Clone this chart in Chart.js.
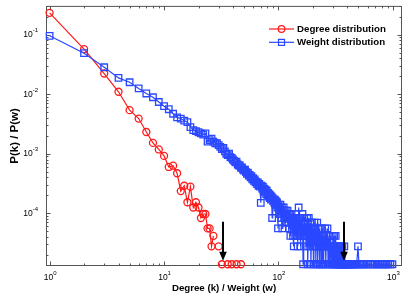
<!DOCTYPE html>
<html>
<head>
<meta charset="utf-8">
<script src="https://cdn.jsdelivr.net/npm/chart.js@4.4.1/dist/chart.umd.min.js"></script>
<style>
  html, body { margin: 0; padding: 0; background: #fff; }
  #chart { display: block; }
</style>
</head>
<body>
<canvas id="chart" width="415" height="301"></canvas>
<script>
// degree distribution P(k); null = no node with that degree (line breaks there)
const degreeK = [1, 2, 3, 4, 5, 6, 7, 8, 9, 10, 11, 12, 13, 14, 15, 16, 17, 18, 19, 20,
                 21, 22, 23, 24, 25, 26, 27, 28, 30, 31, 32, 33, 36, 37, 39, 40, 43, 44, 47];
const degreeP = [0.233, 0.0574, 0.0223, 0.0110, 0.0054, 0.0039, 0.00232, 0.00152, 0.00118, 0.00092,
                 6.0e-4, 6.3e-4, 4.7e-4, 2.36e-4, 2.9e-4, 1.53e-4, 2.8e-4, 1.25e-4, 1.53e-4, 1.25e-4,
                 8.33e-5, 9.72e-5, 9.72e-5, 5.56e-5, 5.56e-5, 2.78e-5, 4.17e-5, null, 2.78e-5, null,
                 1.39e-5, null, 1.39e-5, null, 1.39e-5, null, 1.39e-5, null, 1.39e-5];

// weight distribution P(w)
const weightW = [1, 2, 3, 4, 5, 6, 7, 8, 9, 10, 11, 12, 13, 14, 15, 16, 17, 18, 19, 20,
  21, 22, 23, 24, 25, 26, 27, 28, 29, 30, 31, 32, 33, 34, 35, 36, 37, 38, 39, 40,
  41, 42, 43, 44, 45, 46, 47, 48, 49, 50, 51, 52, 53, 54, 55, 56, 57, 58, 59, 60,
  61, 62, 63, 64, 65, 66, 67, 68, 69, 70, 71, 72, 73, 74, 75, 76, 77, 78, 79, 80,
  81, 82, 83, 84, 85, 86, 87, 88, 89, 90, 91, 92, 93, 94, 95, 96, 97, 98, 99, 100,
  101, 102, 103, 104, 105, 106, 107, 108, 109, 110, 111, 112, 113, 114, 115, 116, 117, 118, 119, 120,
  121, 122, 123, 124, 125, 126, 127, 128, 129, 130, 131, 132, 133, 134, 135, 136, 137, 138, 139, 140,
  141, 142, 143, 144, 145, 146, 147, 148, 149, 150,
  152, 154, 156, 158, 160, 162, 164, 166, 168, 170, 172, 174, 176, 178, 180, 182, 184, 186, 188, 190,
  192, 194, 196, 198, 200, 202, 204, 206, 208, 210, 212, 214, 216, 218, 220, 222, 224, 226, 228, 230,
  232, 234, 236, 238, 240, 242, 244, 246, 248, 250,
  253, 256, 259, 262, 265, 268, 271, 274, 277, 280, 283, 286, 289, 292, 295, 298, 301, 304, 307, 310,
  313, 316, 319, 322, 325, 328, 331, 334, 337, 340, 343, 346, 349, 352, 355, 358, 361, 364, 368, 372,
  376, 380, 385, 390, 396, 402,
  410, 418, 425, 433, 442, 450, 460, 470, 482, 495, 505, 520, 535, 548, 560, 590, 610, 640, 660, 690,
  720, 740, 770, 800, 820, 850, 880, 910, 950, 990];
const weightP = [0.096, 0.049, 0.0284, 0.0188, 0.0159, 0.0125, 0.0103, 0.0089, 0.0074, 0.0063,
  0.0056, 0.0047, 0.0041, 0.0039, 0.0036, 0.0034, 0.0028, 0.0025, 0.0024, 0.0023,
  0.0022, 0.0021, 0.0022, 0.0016, 0.0017, 0.0018, 0.0016, 0.0015, 0.0015, 0.0014,
  0.0013, 0.0012, 0.00125, 0.0011, 0.0010, 0.00095, 0.0010, 0.00088, 0.00085, 0.0008,
  7.6e-4, 7.2e-4, 7.4e-4, 6.6e-4, 6.3e-4, 6.4e-4, 5.8e-4, 5.9e-4, 5.4e-4, 5.2e-4,
  5.4e-4, 4.9e-4, 4.6e-4, 4.8e-4, 4.3e-4, 4.4e-4, 4.0e-4, 4.2e-4, 3.7e-4, 3.9e-4,
  3.5e-4, 3.7e-4, 3.3e-4, 3.4e-4, 3.1e-4, 3.3e-4, 2.9e-4, 3.1e-4, 2.8e-4, 1.5e-4,
  2.9e-4, 2.6e-4, 2.8e-4, 2.4e-4, 2.6e-4, 2.3e-4, 2.5e-4, 2.1e-4, 2.4e-4, 2.0e-4,
  2.2e-4, 1.9e-4, 2.1e-4, 1.8e-4, 2.0e-4, 1.7e-4, 1.9e-4, 8.33e-5, 1.8e-4, 1.6e-4,
  1.7e-4, 1.5e-4, 1.7e-4, 1.4e-4, 1.6e-4, 1.39e-4, 1.53e-4, 1.25e-4, 5.56e-5, 1.4e-4,
  1.11e-4, 1.25e-4, 9.72e-5, 1.39e-4, 1.11e-4, 8.33e-5, 1.25e-4, 5.56e-5, 1.11e-4, 9.72e-5,
  1.25e-4, 8.33e-5, 1.11e-4, 6.94e-5, 9.72e-5, 1.11e-4, 8.33e-5, 9.72e-5, 6.94e-5, 1.11e-4,
  8.33e-5, 6.94e-5, 9.72e-5, 5.56e-5, 8.33e-5, 9.72e-5, 4.17e-5, 8.33e-5, 6.94e-5, 9.72e-5,
  5.56e-5, 8.33e-5, 6.94e-5, 4.17e-5, 8.33e-5, 2.78e-5, 6.94e-5, 5.56e-5, 8.33e-5, 4.17e-5,
  6.94e-5, 5.56e-5, 9.72e-5, 4.17e-5, 6.94e-5, 5.56e-5, 2.78e-5, 6.94e-5, 4.17e-5, 1.25e-4,
  5.56e-5, 8.33e-5, 2.78e-5, 6.94e-5, 4.17e-5, 9.72e-5, 1.39e-5, 5.56e-5, 8.33e-5, 4.17e-5,
  6.94e-5, 2.78e-5, 5.56e-5, 8.33e-5, 1.39e-5, 4.17e-5, 8.33e-5, 2.78e-5, 5.56e-5, 6.94e-5,
  1.39e-5, 4.17e-5, 6.94e-5, 2.78e-5, 5.56e-5, 1.39e-5, 4.17e-5, 6.94e-5, 2.78e-5, 5.56e-5,
  1.39e-5, 4.17e-5, 2.78e-5, 6.94e-5, 1.39e-5, 5.56e-5, 2.78e-5, 4.17e-5, 1.39e-5, 5.56e-5,
  2.78e-5, 4.17e-5, 1.39e-5, 2.78e-5, 5.56e-5, 1.39e-5, 4.17e-5, 2.78e-5, 1.39e-5, 4.17e-5,
  2.78e-5, 5.56e-5, 1.39e-5, 4.17e-5, 2.78e-5, 5.56e-5, 1.39e-5, 2.78e-5, 4.17e-5, 1.39e-5,
  2.78e-5, 4.17e-5, 1.39e-5, 2.78e-5, 1.39e-5, 4.17e-5, 2.78e-5, 1.39e-5, 4.17e-5, 1.39e-5,
  2.78e-5, 4.17e-5, 1.39e-5, 2.78e-5, 1.39e-5, 2.78e-5, 1.39e-5, 2.78e-5, 1.39e-5, 2.78e-5,
  1.39e-5, 1.39e-5, 2.78e-5, 1.39e-5, 2.78e-5, 1.39e-5, 2.78e-5, 1.39e-5, 1.39e-5, 1.39e-5,
  2.78e-5, 1.39e-5, 1.39e-5, 1.39e-5, 1.39e-5, 1.39e-5,
  1.39e-5, 1.39e-5, 1.39e-5, 1.39e-5, 1.39e-5, 1.39e-5, 1.39e-5, 1.39e-5, 1.39e-5, 2.78e-5,
  1.39e-5, 1.39e-5, 1.39e-5, 1.39e-5, 1.39e-5, 1.39e-5, 1.39e-5, 1.39e-5, 1.39e-5, 1.39e-5,
  1.39e-5, 1.39e-5, 1.39e-5, 1.39e-5, 1.39e-5, 1.39e-5, 1.39e-5, 1.39e-5, 1.39e-5, 1.39e-5];

const seriesNames = ['Degree distribution', 'Weight distribution'];
const xTickPowers = [0, 1, 2, 3];
const yTickPowers = [-4, -3, -2, -1];
// arrows marking the cut-offs: x positions, then top and tip heights
const arrowX = [33, 373];
const arrowY = [7.2e-5, 1.6e-5];

const RED = '#ff1a1a';
const BLUE = '#2a48ff';
const FONT = '"Liberation Sans", Arial, Helvetica, sans-serif';

function drawPow(ctx, p, x, y, align) {
  const base = '10';
  const sup = p < 0 ? '-' + (-p) : String(p);
  ctx.font = '8.5px ' + FONT;
  const wb = ctx.measureText(base).width;
  ctx.font = '6px ' + FONT;
  const ws = ctx.measureText(sup).width;
  const left = align === 'right' ? x - wb - ws : x - (wb + ws) / 2 + 0.5;
  ctx.textAlign = 'left';
  ctx.textBaseline = 'middle';
  ctx.font = '8.5px ' + FONT;
  ctx.fillText(base, left, y);
  ctx.font = '6px ' + FONT;
  ctx.fillText(sup, left + wb, y - 4);
}

const matlabAxes = {
  id: 'matlabAxes',
  beforeDatasetsDraw(chart) {
    const { ctx, chartArea: a, scales: { x, y } } = chart;
    ctx.save();
    ctx.strokeStyle = '#555';
    ctx.lineWidth = 1;
    ctx.strokeRect(a.left + 0.5, a.top + 0.5, a.right - a.left - 1, a.bottom - a.top - 1);
    ctx.beginPath();
    // inward ticks on all four sides, major at decades, minor at 2..9
    for (let e = -1; e <= 3; e++) {
      for (let m = 1; m <= 9; m++) {
        const v = m * Math.pow(10, e);
        if (v < x.min || v > x.max) continue;
        const px = Math.round(x.getPixelForValue(v)) + 0.5;
        const len = m === 1 ? 4.5 : 2.5;
        ctx.moveTo(px, a.bottom); ctx.lineTo(px, a.bottom - len);
        ctx.moveTo(px, a.top); ctx.lineTo(px, a.top + len);
      }
    }
    for (let e = -5; e <= 0; e++) {
      for (let m = 1; m <= 9; m++) {
        const v = m * Math.pow(10, e);
        if (v < y.min || v > y.max) continue;
        const py = Math.round(y.getPixelForValue(v)) + 0.5;
        const len = m === 1 ? 4.5 : 2.5;
        ctx.moveTo(a.left, py); ctx.lineTo(a.left + len, py);
        ctx.moveTo(a.right, py); ctx.lineTo(a.right - len, py);
      }
    }
    ctx.stroke();
    ctx.restore();
  },
  afterDatasetsDraw(chart) {
    const { ctx, chartArea: a, scales: { x, y } } = chart;
    ctx.save();
    ctx.fillStyle = '#000';

    // tick labels
    xTickPowers.forEach(p => drawPow(ctx, p, x.getPixelForValue(Math.pow(10, p)), a.bottom + 11.5, 'center'));
    yTickPowers.forEach(p => drawPow(ctx, p, a.left - 8, y.getPixelForValue(Math.pow(10, p)), 'right'));

    // axis titles
    ctx.font = 'bold 9.7px ' + FONT;
    ctx.textAlign = 'center';
    ctx.textBaseline = 'middle';
    ctx.fillText('Degree (k) / Weight (w)', (a.left + a.right) / 2, a.bottom + 22.5);
    ctx.save();
    ctx.translate(15, (a.top + a.bottom) / 2);
    ctx.rotate(-Math.PI / 2);
    ctx.font = 'bold 11.5px ' + FONT;
    ctx.fillText('P(k) / P(w)', 0, 0);
    ctx.restore();

    // arrows
    ctx.strokeStyle = '#000';
    ctx.lineWidth = 2;
    arrowX.forEach(v => {
      const px = Math.round(x.getPixelForValue(v));
      const top = y.getPixelForValue(arrowY[0]);
      const tip = y.getPixelForValue(arrowY[1]);
      ctx.beginPath();
      ctx.moveTo(px, top);
      ctx.lineTo(px, tip - 6);
      ctx.stroke();
      ctx.beginPath();
      ctx.moveTo(px, tip);
      ctx.lineTo(px - 3.8, tip - 9);
      ctx.lineTo(px + 3.8, tip - 9);
      ctx.closePath();
      ctx.fill();
    });

    // legend
    const lx = 269, rows = [29, 42.3];
    chart.data.datasets.forEach((ds, i) => {
      const ly = rows[i];
      ctx.strokeStyle = ds.borderColor;
      ctx.lineWidth = 1.2;
      ctx.beginPath();
      ctx.moveTo(lx, ly); ctx.lineTo(lx + 25, ly);
      ctx.stroke();
      ctx.beginPath();
      if (ds.pointStyle === 'rect') {
        ctx.rect(lx + 12.5 - 3, ly - 3, 6, 6);
      } else {
        ctx.arc(lx + 12.5, ly, 3.3, 0, Math.PI * 2);
      }
      ctx.stroke();
      ctx.fillStyle = '#000';
      ctx.font = 'bold 9.7px ' + FONT;
      ctx.textAlign = 'left';
      ctx.textBaseline = 'middle';
      ctx.fillText(ds.label, lx + 28, ly);
    });
    ctx.restore();
  }
};

new Chart(document.getElementById('chart'), {
  type: 'line',
  data: {
    datasets: [
      {
        label: seriesNames[0],
        data: degreeK.map((k, i) => ({ x: k, y: degreeP[i] })),
        borderColor: RED,
        borderWidth: 1.2,
        pointStyle: 'circle',
        pointRadius: 3.5,
        pointBorderWidth: 1.3,
        pointBorderColor: RED,
        pointBackgroundColor: 'rgba(0,0,0,0)',
        spanGaps: false,
        clip: false,
        order: 2
      },
      {
        label: seriesNames[1],
        data: weightW.map((w, i) => ({ x: w, y: weightP[i] })),
        borderColor: BLUE,
        borderWidth: 1.2,
        pointStyle: 'rect',
        pointRadius: 4.6,
        pointBorderWidth: 1.3,
        pointBorderColor: BLUE,
        pointBackgroundColor: 'rgba(0,0,0,0)',
        clip: false,
        order: 1
      }
    ]
  },
  options: {
    responsive: false,
    devicePixelRatio: 1,
    animation: false,
    layout: { padding: { top: 4, right: 13, left: 0, bottom: 0 } },
    plugins: { legend: { display: false }, tooltip: { enabled: false } },
    elements: { line: { tension: 0 } },
    scales: {
      x: {
        type: 'logarithmic',
        min: 0.93,
        max: 1200,
        grid: { display: false },
        border: { display: false },
        ticks: { display: false },
        afterFit: s => { s.height = 35; }
      },
      y: {
        type: 'logarithmic',
        min: 1.3e-5,
        max: 0.305,
        grid: { display: false },
        border: { display: false },
        ticks: { display: false },
        afterFit: s => { s.width = 46; }
      }
    }
  },
  plugins: [matlabAxes]
});
</script>
</body>
</html>
